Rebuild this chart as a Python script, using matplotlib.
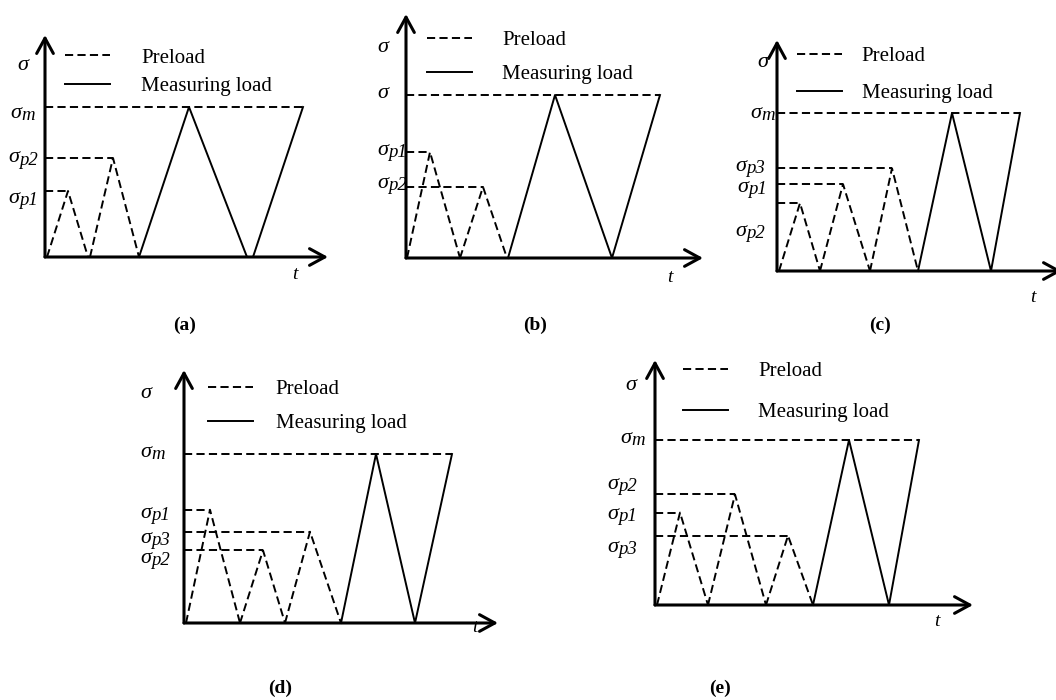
import matplotlib.pyplot as plt

plt.rcParams['font.family'] = 'Liberation Serif'

W, H = 1056, 700

# time in arbitrary units, stress as a fraction of sigma_m
# (a)
a_pre_t = [[0.2, 2.3, 4.3], [4.5, 6.8, 9.4]]
a_pre_s = [[0, 0.44, 0], [0, 0.66, 0]]
a_meas_t = [9.4, 14.4, 20.2, 20.8, 25.8]
a_meas_s = [0, 1, 0, 0, 1]
a_lvl_s = [1.0, 0.66, 0.44]
a_lvl_t = [25.8, 6.8, 2.3]
a_names = ['σ', 'σm', 'σp2', 'σp1']
a_name_t = [-2.8, -3.5, -3.7, -3.7]
a_name_s = [1.28, 0.96, 0.66, 0.39]

# (b)
b_pre_t = [[0.1, 2.4, 5.4], [5.4, 7.7, 10.1]]
b_pre_s = [[0, 0.65, 0], [0, 0.436, 0]]
b_meas_t = [10.2, 14.9, 20.6, 25.4]
b_meas_s = [0, 1, 0, 1]
b_lvl_s = [1.0, 0.65, 0.436]
b_lvl_t = [25.4, 2.4, 7.7]
b_names = ['σ', 'σ', 'σp1', 'σp2']
b_name_t = [-2.9, -2.9, -2.9, -2.9]
b_name_s = [1.29, 1.01, 0.66, 0.46]

# (c)
c_pre_t = [[0.2, 2.3, 4.3], [4.3, 6.6, 9.3], [9.3, 11.5, 14.1]]
c_pre_s = [[0, 0.43, 0], [0, 0.55, 0], [0, 0.65, 0]]
c_meas_t = [14.1, 17.5, 21.4, 24.3]
c_meas_s = [0, 1, 0, 1]
c_lvl_s = [1.0, 0.65, 0.55, 0.43]
c_lvl_t = [24.3, 11.5, 6.6, 2.3]
c_names = ['σ', 'σm', 'σp3', 'σp1', 'σp2']
c_name_t = [-2.0, -2.7, -4.2, -4.0, -4.2]
c_name_s = [1.32, 1.0, 0.66, 0.53, 0.25]

# (d)
d_pre_t = [[0.2, 2.6, 5.6], [5.6, 7.9, 10.1], [10.1, 12.6, 15.7]]
d_pre_s = [[0, 0.67, 0], [0, 0.43, 0], [0, 0.54, 0]]
d_meas_t = [15.7, 19.2, 23.1, 26.8]
d_meas_s = [0, 1, 0, 1]
d_lvl_s = [1.0, 0.67, 0.54, 0.43]
d_lvl_t = [26.8, 2.6, 12.6, 7.9]
d_names = ['σ', 'σm', 'σp1', 'σp3', 'σp2']
d_name_t = [-4.4, -4.4, -4.4, -4.4, -4.4]
d_name_s = [1.36, 1.01, 0.65, 0.50, 0.38]

# (e)
e_pre_t = [[0.2, 2.5, 5.3], [5.3, 8.0, 11.1], [11.1, 13.3, 15.8]]
e_pre_s = [[0, 0.56, 0], [0, 0.67, 0], [0, 0.42, 0]]
e_meas_t = [15.8, 19.4, 23.4, 26.4]
e_meas_s = [0, 1, 0, 1]
e_lvl_s = [1.0, 0.67, 0.56, 0.42]
e_lvl_t = [26.4, 8.0, 2.5, 13.3]
e_names = ['σ', 'σm', 'σp2', 'σp1', 'σp3']
e_name_t = [-3.0, -3.5, -4.8, -4.8, -4.8]
e_name_s = [1.33, 1.01, 0.73, 0.55, 0.35]

captions = ['(a)', '(b)', '(c)', '(d)', '(e)']

# layout in pixels: origin x, origin y, x-arrow tip, y-arrow tip, sigma_m height
boxes = [(45, 257, 328, 35, 107),
         (406, 258, 703, 14, 95),
         (777, 271, 1062, 40, 113),
         (184, 623, 498, 370, 454),
         (655, 605, 973, 360, 440)]
caption_xy = [(185, 325), (535, 325), (880, 325), (280, 688), (720, 688)]
t_xy = [(295, 275), (670, 278), (1033, 297), (475, 627), (937, 622)]
# legend: left x, mid y, label spacing, text pad
leg_pos = [(65, 72, 0.42, 1.5), (427, 57.5, 0.68, 1.45), (797, 75, 0.83, 0.95),
           (208, 406.5, 0.68, 1.1), (683, 392, 1.02, 1.45)]

panels = [
    (a_pre_t, a_pre_s, a_meas_t, a_meas_s, a_lvl_s, a_lvl_t, a_names, a_name_t, a_name_s),
    (b_pre_t, b_pre_s, b_meas_t, b_meas_s, b_lvl_s, b_lvl_t, b_names, b_name_t, b_name_s),
    (c_pre_t, c_pre_s, c_meas_t, c_meas_s, c_lvl_s, c_lvl_t, c_names, c_name_t, c_name_s),
    (d_pre_t, d_pre_s, d_meas_t, d_meas_s, d_lvl_s, d_lvl_t, d_names, d_name_t, d_name_s),
    (e_pre_t, e_pre_s, e_meas_t, e_meas_s, e_lvl_s, e_lvl_t, e_names, e_name_t, e_name_s),
]

dash = (0, (4.2, 2.2))
fig = plt.figure(figsize=(W / 100, H / 100), dpi=100)

for i, (pre_t, pre_s, meas_t, meas_s, lvl_s, lvl_t, names, name_t, name_s) in enumerate(panels):
    x0, y0, xe, yt, ym = boxes[i]
    ax = fig.add_axes([x0 / W, 1 - y0 / H, (xe - x0) / W, (y0 - yt) / H])
    ax.set_xlim(0, (xe - x0) / 10)
    ax.set_ylim(0, (y0 - yt) / (y0 - ym))
    ax.axis('off')

    # level lines
    for s, t1 in zip(lvl_s, lvl_t):
        ax.plot([0, t1], [s, s], color='black', lw=1.4, linestyle=dash, clip_on=False)
    # preload cycles
    for k, (tt, ss) in enumerate(zip(pre_t, pre_s)):
        ln, = ax.plot(tt, ss, color='black', lw=1.4, linestyle=dash, clip_on=False)
        if k == 0:
            h_pre = ln
    h_meas, = ax.plot(meas_t, meas_s, color='black', lw=1.4, clip_on=False)

    # axes with arrows
    ap = dict(arrowstyle='->,head_length=1.1,head_width=0.6', lw=2.2, color='black',
              shrinkA=0, shrinkB=0, mutation_scale=10)
    ax.annotate('', xy=(1, 0), xytext=(0, 0), xycoords='axes fraction', arrowprops=ap)
    ax.annotate('', xy=(0, 1), xytext=(0, 0), xycoords='axes fraction', arrowprops=ap)

    # stress labels: sigma with a near full-size italic subscript
    for nm, tx, sy in zip(names, name_t, name_s):
        base = ax.text(tx, sy, nm[0], fontsize=16, style='italic', ha='left',
                       va='center', clip_on=False)
        if len(nm) > 1:
            ax.annotate(nm[1:], xy=(1, 0), xycoords=base, xytext=(0.3, -0.8),
                        textcoords='offset points', fontsize=13.5, style='italic',
                        ha='left', va='bottom')

    lx, ly, lsp, tpad = leg_pos[i]
    fig.legend([h_pre, h_meas], ['Preload', 'Measuring load'], loc='center left',
               bbox_to_anchor=(lx / W, 1 - ly / H), frameon=False, fontsize=15,
               handlelength=2.15, handletextpad=tpad, labelspacing=lsp,
               borderpad=0, borderaxespad=0)

    tx, ty = t_xy[i]
    fig.text(tx / W, 1 - ty / H, 't', fontsize=14, style='italic', ha='center', va='center')
    cx, cy = caption_xy[i]
    fig.text(cx / W, 1 - cy / H, captions[i], fontsize=14, fontweight='bold',
             ha='center', va='center')

fig.savefig('out.png', dpi=100)
